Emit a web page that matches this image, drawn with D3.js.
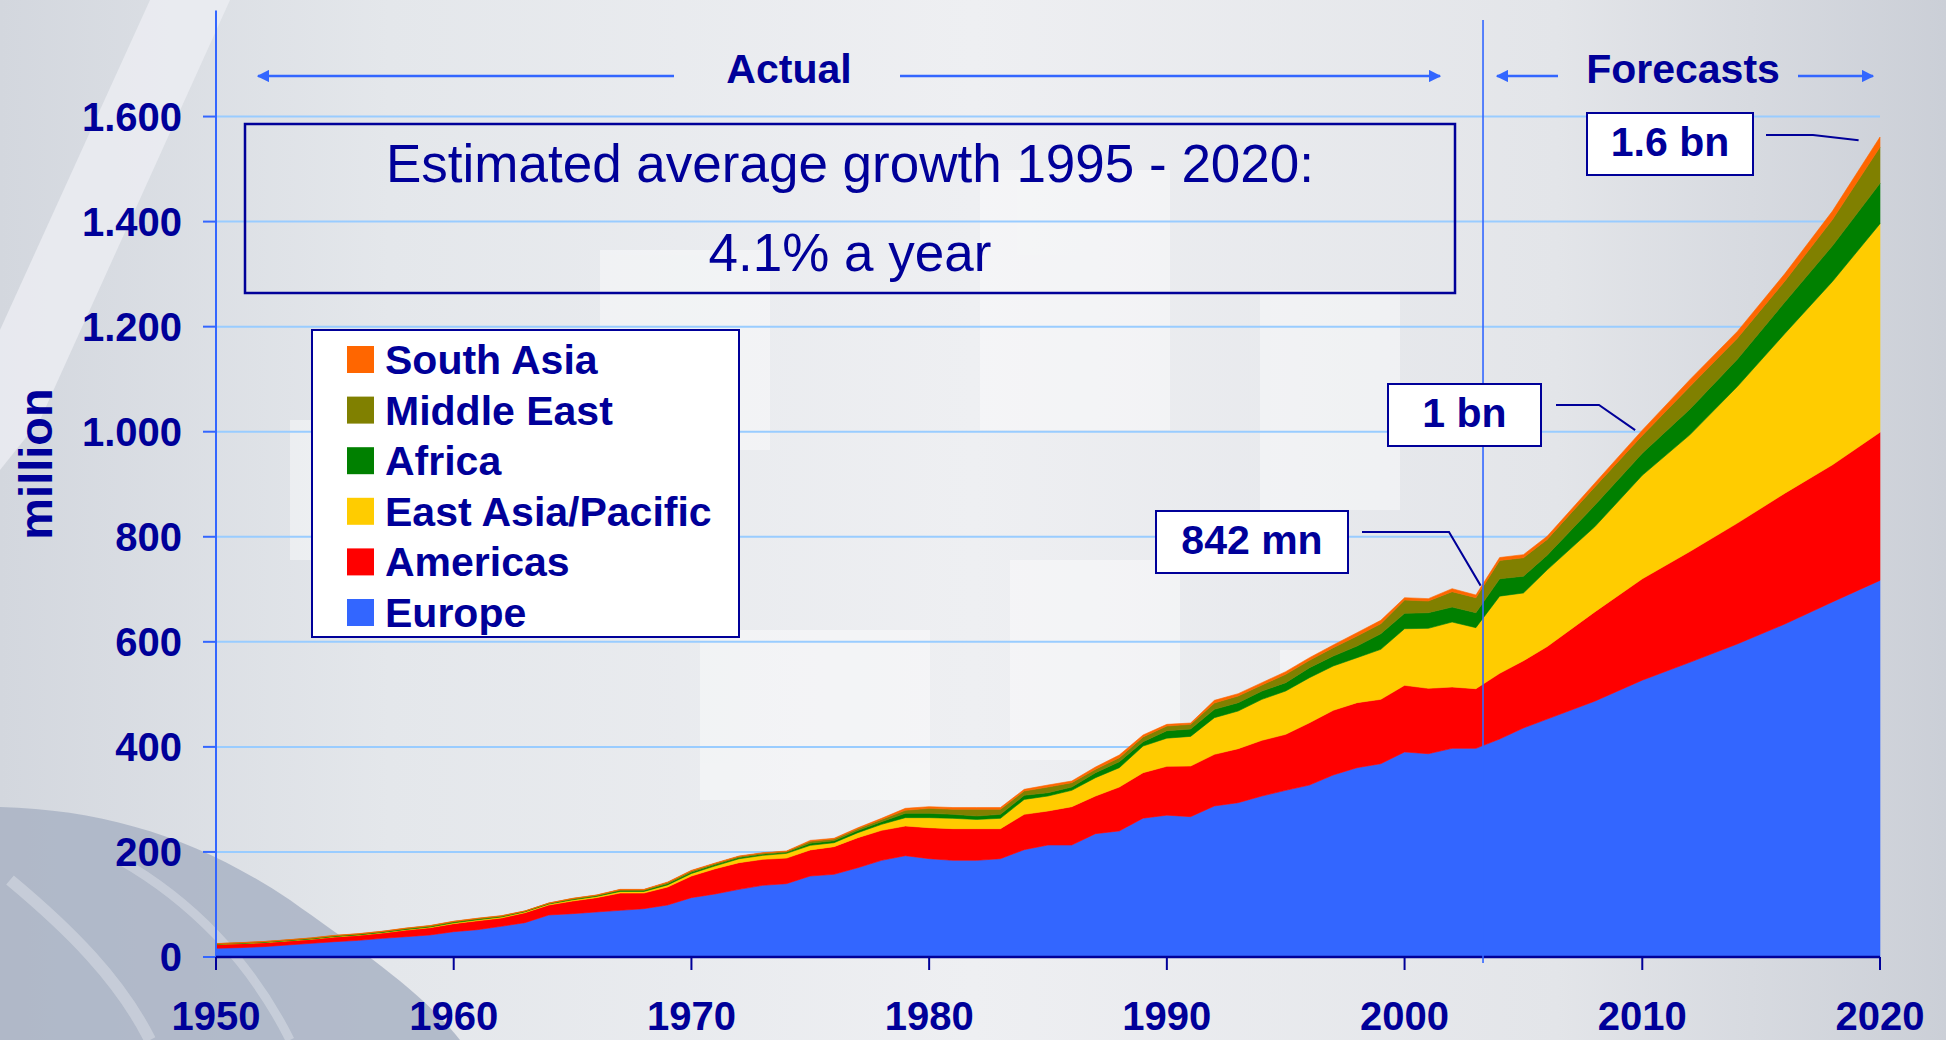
<!DOCTYPE html>
<html lang="en">
<head>
<meta charset="UTF-8">
<title>International tourist arrivals by region 1950 - 2020</title>
<style>
  body, html {
    margin: 0;
    padding: 0;
    width: 100%;
    height: 100%;
    overflow: hidden;
    background: #dfe2e8;
    font-family: "Liberation Sans", Arial, sans-serif;
  }
  svg { display: block; }
  .tick-label { fill: #000099; font-weight: bold; font-size: 40px; }
  .note { fill: #000099; font-weight: bold; font-size: 41px; text-anchor: middle; }
</style>
</head>
<body>
<div id="chart"></div>
<script src="https://d3js.org/d3.v7.min.js"></script>
<script>
// years: actual data every year to 2003, forecasts after that
const years = [
  1950, 1951, 1952, 1953, 1954, 1955, 1956, 1957, 1958, 1959,
  1960, 1961, 1962, 1963, 1964, 1965, 1966, 1967, 1968, 1969,
  1970, 1971, 1972, 1973, 1974, 1975, 1976, 1977, 1978, 1979,
  1980, 1981, 1982, 1983, 1984, 1985, 1986, 1987, 1988, 1989,
  1990, 1991, 1992, 1993, 1994, 1995, 1996, 1997, 1998, 1999,
  2000, 2001, 2002, 2003,
  2004, 2005, 2006, 2008, 2010, 2012, 2014, 2016, 2018, 2020
];

// million arrivals per region
const europe = [
  16.5, 17.8, 19.7, 22.8, 26.0, 29.2, 31.7, 35.5, 38.7, 41.9,
  48.2, 52.0, 58.4, 65.4, 80.0, 82.5, 85.7, 88.8, 92.0, 99.0,
  113.0, 120.0, 128.8, 136.4, 139.6, 154.2, 157.4, 170.0, 184.0, 192.9,
  187.2, 184.0, 184.0, 187.2, 204.3, 213.2, 213.2, 234.8, 240.0, 264.3,
  270.0, 267.2, 287.5, 293.8, 306.5, 317.3, 327.4, 346.5, 360.4, 368.0,
  390.3, 387.0, 397.2, 397.2,
  415, 436, 453, 487, 527, 561, 596, 634, 676, 717
];
const americas = [
  7.6, 7.6, 7.6, 7.7, 7.6, 8.9, 9.5, 10.2, 12.5, 13.8,
  15.3, 17.0, 15.8, 19.0, 19.0, 24.1, 27.3, 33.0, 29.8, 34.3,
  41.2, 48.0, 50.8, 49.5, 48.7, 49.6, 52.7, 57.2, 57.1, 56.5,
  59.0, 60.3, 60.3, 57.1, 67.3, 64.8, 73.0, 71.7, 83.6, 86.6,
  93.0, 96.4, 98.3, 102.8, 106.0, 106.6, 118.6, 123.1, 123.8, 122.5,
  126.9, 124.5, 116.8, 113.6,
  125, 128, 138, 170, 193, 211, 230, 249, 261, 282
];
const eastAsiaPacific = [
  0.3, 0.4, 0.5, 0.6, 0.7, 0.8, 0.9, 1.0, 1.2, 1.3,
  1.5, 1.8, 1.9, 1.6, 1.8, 2.2, 2.2, 3.0, 3.0, 4.0,
  4.8, 5.5, 7.4, 7.6, 9.0, 8.8, 7.5, 9.5, 11.5, 15.9,
  19.1, 19.7, 17.7, 19.7, 28.4, 28.5, 31.1, 34.9, 36.8, 50.7,
  53.6, 56.4, 69.8, 71.7, 78.0, 82.5, 85.8, 84.4, 85.6, 95.2,
  107.8, 114.2, 123.7, 116.2,
  147, 129, 146, 162, 197, 222, 260, 304, 349, 397
];
const africa = [
  0.5, 0.6, 0.7, 0.7, 0.9, 1.0, 1.0, 1.1, 1.2, 1.3,
  1.4, 1.4, 1.2, 0.9, 1.0, 1.3, 1.3, 1.6, 1.6, 2.2,
  2.5, 2.5, 2.3, 2.3, 2.0, 4.0, 3.8, 4.0, 5.0, 8.2,
  8.2, 7.6, 6.4, 7.6, 7.8, 6.3, 6.3, 9.5, 11.4, 8.4,
  14.2, 14.0, 15.9, 15.9, 15.9, 15.9, 19.0, 19.0, 22.2, 29.8,
  29.2, 29.8, 28.6, 28.5,
  33, 32, 28, 41, 42, 49, 52, 60, 68, 77
];
const middleEast = [
  0.4, 0.6, 0.7, 0.6, 0.8, 0.9, 0.9, 0.9, 1.0, 1.1,
  1.2, 1.1, 0.8, 0.6, 0.7, 1.1, 1.0, 1.6, 1.6, 2.2,
  2.4, 2.0, 2.0, 1.8, 1.6, 3.6, 3.2, 3.5, 4.3, 5.7,
  9.5, 9.5, 12.7, 9.5, 8.2, 10.8, 8.3, 6.4, 7.7, 9.0,
  8.9, 8.9, 12.0, 12.7, 11.4, 15.8, 14.0, 15.9, 19.0, 19.1,
  25.4, 22.2, 29.2, 28.5,
  35, 35, 30, 35, 34, 43, 40, 40, 50, 69
];
const southAsia = [
  0.3, 0.3, 0.3, 0.3, 0.4, 0.4, 0.4, 0.4, 0.5, 0.5,
  0.5, 0.5, 0.5, 0.2, 0.3, 0.5, 0.5, 0.8, 0.8, 1.1,
  1.1, 1.0, 1.0, 1.0, 0.9, 1.8, 1.4, 1.8, 2.1, 3.8,
  3.2, 3.4, 3.4, 3.4, 3.2, 3.8, 3.1, 4.4, 5.0, 3.7,
  3.2, 2.5, 5.1, 4.4, 4.5, 5.1, 5.0, 5.1, 6.4, 6.3,
  4.4, 4.5, 5.7, 5.1,
  5.5, 6, 6, 7, 10, 13, 13, 14, 16, 19
];

const regions = ["Europe", "Americas", "East Asia/Pacific", "Africa", "Middle East", "South Asia"];
const regionValues = [europe, americas, eastAsiaPacific, africa, middleEast, southAsia];
const regionColors = ["#3366ff", "#ff0000", "#ffcc00", "#008000", "#808000", "#ff6600"];

const yTicks = [0, 200, 400, 600, 800, 1000, 1200, 1400, 1600];
const xTicks = [1950, 1960, 1970, 1980, 1990, 2000, 2010, 2020];
const forecastStart = 2003.3;

const W = 1946, H = 1040;
const navy = "#000099", blue = "#3366ff";

const svg = d3.select("#chart").append("svg")
    .attr("width", W)
    .attr("height", H);

// background, a rough stand-in for the pale emblem watermark
const defs = svg.append("defs");
const grad = defs.append("linearGradient").attr("id", "bg")
    .attr("x1", 0).attr("x2", 1).attr("y1", 0).attr("y2", 0);
[[0, "#d3d7de"], [0.2, "#e4e7eb"], [0.5, "#eeeff2"], [0.8, "#e3e5e9"], [1, "#cbcfd7"]]
    .forEach(s => grad.append("stop").attr("offset", s[0]).attr("stop-color", s[1]));
svg.append("rect").attr("width", W).attr("height", H).attr("fill", "url(#bg)");

const wm = svg.append("g").attr("fill", "#ffffff").attr("opacity", 0.4);
[[290, 420, 220, 140], [600, 250, 170, 200], [980, 170, 190, 260], [1260, 290, 140, 220],
 [700, 630, 230, 170], [1010, 560, 170, 200], [1280, 650, 140, 150]]
    .forEach(r => wm.append("rect").attr("x", r[0]).attr("y", r[1]).attr("width", r[2]).attr("height", r[3]));
// pale diagonal streak top left
svg.append("path")
    .attr("d", "M150,0 L230,0 L40,420 L0,470 L0,330 Z")
    .attr("fill", "#eceef2").attr("opacity", 0.8);
// darker wreath corner bottom left
svg.append("path")
    .attr("d", "M0,807 C110,810 200,840 290,900 C360,950 420,990 460,1040 L0,1040 Z")
    .attr("fill", "#a9b3c4").attr("opacity", 0.85);
const streak = svg.append("g").attr("fill", "none").attr("stroke", "#c9cfda").attr("opacity", 0.9);
streak.append("path").attr("d", "M10,880 C70,930 120,980 150,1040").attr("stroke-width", 12);
streak.append("path").attr("d", "M120,860 C190,900 250,960 290,1040").attr("stroke-width", 9);

// scales
const x = d3.scaleLinear().domain([1950, 2020]).range([216, 1880]);
const y = d3.scaleLinear().domain([0, 1800]).range([957, 11.5]);

// gridlines
svg.append("g").selectAll("line")
    .data(yTicks.filter(t => t > 0))
    .join("line")
    .attr("x1", x(1950)).attr("x2", x(2020))
    .attr("y1", d => y(d)).attr("y2", d => y(d))
    .attr("stroke", "#99ccff").attr("stroke-width", 2);

// stacked areas
const table = years.map((yr, i) => {
    const row = { year: yr };
    regions.forEach((r, k) => row[r] = regionValues[k][i]);
    return row;
});
const series = d3.stack().keys(regions)(table);
const area = d3.area()
    .x(d => x(d.data.year))
    .y0(d => y(d[0]))
    .y1(d => y(d[1]));

svg.append("g").selectAll("path")
    .data(series)
    .join("path")
    .attr("d", area)
    .attr("fill", (d, i) => regionColors[i])
    .attr("stroke", (d, i) => regionColors[i])
    .attr("stroke-width", 0.6);

// axes
const fmt = d3.formatLocale({ decimal: ",", thousands: ".", grouping: [3], currency: ["", ""] }).format(",");

svg.append("line")
    .attr("x1", x(1950)).attr("x2", x(1950))
    .attr("y1", y(1800) - 1).attr("y2", y(0))
    .attr("stroke", blue).attr("stroke-width", 2);
svg.append("g").selectAll("line")
    .data(yTicks)
    .join("line")
    .attr("x1", x(1950) - 13).attr("x2", x(1950))
    .attr("y1", d => y(d)).attr("y2", d => y(d))
    .attr("stroke", blue).attr("stroke-width", 2);
svg.append("g").selectAll("text")
    .data(yTicks)
    .join("text")
    .attr("class", "tick-label")
    .attr("x", x(1950) - 34)
    .attr("y", d => y(d) + 14)
    .attr("text-anchor", "end")
    .text(d => fmt(d));

svg.append("line")
    .attr("x1", x(1950)).attr("x2", x(2020))
    .attr("y1", y(0)).attr("y2", y(0))
    .attr("stroke", navy).attr("stroke-width", 2.5);
svg.append("g").selectAll("line")
    .data(xTicks)
    .join("line")
    .attr("x1", d => x(d)).attr("x2", d => x(d))
    .attr("y1", y(0)).attr("y2", y(0) + 13)
    .attr("stroke", navy).attr("stroke-width", 2);
svg.append("g").selectAll("text")
    .data(xTicks)
    .join("text")
    .attr("class", "tick-label")
    .attr("x", d => x(d))
    .attr("y", 1030)
    .attr("text-anchor", "middle")
    .text(d => d);

svg.append("text")
    .attr("transform", `translate(52,464) rotate(-90)`)
    .attr("text-anchor", "middle")
    .attr("fill", navy)
    .attr("font-weight", "bold")
    .attr("font-size", 47)
    .text("million");

// actual / forecast divider
svg.append("line")
    .attr("x1", x(forecastStart)).attr("x2", x(forecastStart))
    .attr("y1", 20).attr("y2", y(0) + 6)
    .attr("stroke", blue).attr("stroke-width", 1.6);

// period arrows
defs.append("marker")
    .attr("id", "head")
    .attr("viewBox", "0 0 10 10")
    .attr("refX", 9).attr("refY", 5)
    .attr("markerWidth", 5).attr("markerHeight", 5)
    .attr("orient", "auto")
    .append("path").attr("d", "M0,0 L10,5 L0,10 z").attr("fill", blue);

const arrows = [
    [674, 258], [900, 1440], [1558, 1497], [1798, 1873]
];
svg.append("g").selectAll("line")
    .data(arrows)
    .join("line")
    .attr("x1", d => d[0]).attr("x2", d => d[1])
    .attr("y1", 76).attr("y2", 76)
    .attr("stroke", blue).attr("stroke-width", 2.5)
    .attr("marker-end", "url(#head)");

svg.append("text").attr("class", "note")
    .attr("x", 789).attr("y", 83).attr("font-size", 42).text("Actual");
svg.append("text").attr("class", "note")
    .attr("x", 1683).attr("y", 83).attr("font-size", 42).text("Forecasts");

// growth box
svg.append("rect")
    .attr("x", 245).attr("y", 124).attr("width", 1210).attr("height", 169)
    .attr("fill", "none").attr("stroke", navy).attr("stroke-width", 2.5);
svg.append("text")
    .attr("x", 850).attr("y", 182)
    .attr("text-anchor", "middle").attr("fill", navy).attr("font-size", 53)
    .text("Estimated average growth 1995 - 2020:");
svg.append("text")
    .attr("x", 850).attr("y", 271)
    .attr("text-anchor", "middle").attr("fill", navy).attr("font-size", 53)
    .text("4.1% a year");

// legend
const legend = svg.append("g");
legend.append("rect")
    .attr("x", 312).attr("y", 330).attr("width", 427).attr("height", 307)
    .attr("fill", "#ffffff").attr("stroke", navy).attr("stroke-width", 2);
const legendOrder = regions.map((r, i) => ({ name: r, color: regionColors[i] })).reverse();
const rows = legend.selectAll("g.row")
    .data(legendOrder)
    .join("g")
    .attr("class", "row")
    .attr("transform", (d, i) => `translate(0,${359.5 + i * 50.6})`);
rows.append("rect")
    .attr("x", 347).attr("y", -13.5).attr("width", 27).attr("height", 27)
    .attr("fill", d => d.color);
rows.append("text")
    .attr("x", 385).attr("y", 14.5)
    .attr("fill", navy).attr("font-weight", "bold").attr("font-size", 41)
    .text(d => d.name);

// callouts
const callouts = [
    { label: "1.6 bn", box: [1587, 113, 166, 62], leader: [[1766, 135], [1813, 135], [x(2019.1), y(1555)]] },
    { label: "1 bn", box: [1388, 384, 153, 62], leader: [[1556, 405], [1599, 405], [x(2009.7), y(1003)]] },
    { label: "842 mn", box: [1156, 511, 192, 62], leader: [[1362, 532], [1449, 532], [x(2003.2), y(707)]] }
];
callouts.forEach(c => {
    svg.append("path")
        .attr("d", d3.line()(c.leader))
        .attr("fill", "none").attr("stroke", navy).attr("stroke-width", 2);
    svg.append("rect")
        .attr("x", c.box[0]).attr("y", c.box[1]).attr("width", c.box[2]).attr("height", c.box[3])
        .attr("fill", "#ffffff").attr("stroke", navy).attr("stroke-width", 2);
    svg.append("text").attr("class", "note")
        .attr("x", c.box[0] + c.box[2] / 2).attr("y", c.box[1] + 43)
        .text(c.label);
});
</script>
</body>
</html>
